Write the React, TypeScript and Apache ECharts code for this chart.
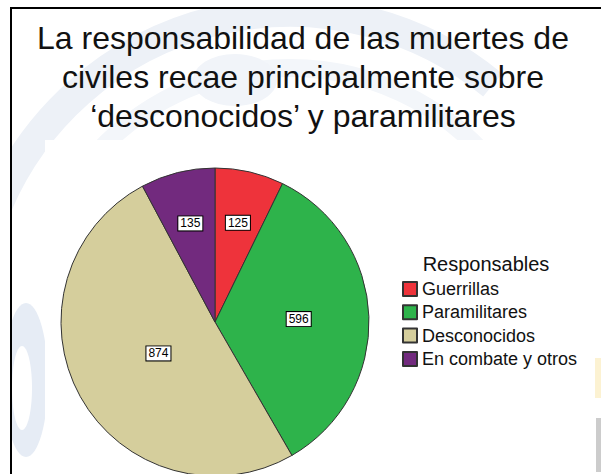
import React, { useEffect, useRef } from "react";
import * as echarts from "echarts";

const categories = ["Guerrillas", "Paramilitares", "Desconocidos", "En combate y otros"];
const values = [125, 596, 874, 135];
const colors = ["#EE333B", "#2EB34B", "#D5CE9C", "#722A7E"];
const titleLines = [
  "La responsabilidad de las muertes de",
  "civiles recae principalmente sobre",
  "\u2018desconocidos\u2019 y paramilitares",
];
const legendTitle = "Responsables";

const FONT = "'Liberation Sans', Arial, Helvetica, sans-serif";
const CX = 215;
const CY = 322;
const R = 154;

export default function App() {
  const ref = useRef<HTMLDivElement>(null);
  useEffect(() => {
    if (!ref.current) return;
    const chart = echarts.init(ref.current, undefined, { renderer: "svg" });
    const total = values.reduce((a, b) => a + b, 0);

    const centroid = (i: number) => {
      let before = 0;
      for (let k = 0; k < i; k++) before += values[k];
      const a0 = (before / total) * Math.PI * 2;
      const a1 = ((before + values[i]) / total) * Math.PI * 2;
      const mid = (a0 + a1) / 2;
      const half = (a1 - a0) / 2;
      const d = (2 * R * Math.sin(half)) / (3 * half);
      return { x: CX + d * Math.sin(mid), y: CY - d * Math.cos(mid) };
    };

    const option: any = {
      animation: false,
      backgroundColor: "#ffffff",
      color: colors,
      graphic: [
        // faint watermark of the slide background
        {
          type: "arc",
          z: -10,
          silent: true,
          shape: { cx: 290, cy: 330, r: 318, startAngle: Math.PI * 1.13, endAngle: Math.PI * 1.72, clockwise: true },
          style: { stroke: "#edf1f7", lineWidth: 30, fill: null },
        },
        {
          type: "arc",
          z: -10,
          silent: true,
          shape: { cx: 290, cy: 330, r: 262, startAngle: Math.PI * 1.2, endAngle: Math.PI * 1.8, clockwise: true },
          style: { stroke: "#f3f6fa", lineWidth: 18, fill: null },
        },
        {
          type: "ellipse",
          z: -10,
          silent: true,
          shape: { cx: 235, cy: 80, rx: 42, ry: 26 },
          style: { fill: "#f1f4f9" },
        },
        {
          type: "ellipse",
          z: -9,
          silent: true,
          shape: { cx: 26, cy: 380, rx: 22, ry: 77 },
          style: { fill: "#e6ecf5" },
        },
        {
          type: "ellipse",
          z: -8,
          silent: true,
          shape: { cx: 22, cy: 388, rx: 10, ry: 42 },
          style: { fill: "#ffffff" },
        },
        {
          type: "rect",
          z: -5,
          silent: true,
          shape: { x: 45, y: 140, width: 550, height: 334 },
          style: { fill: "#ffffff" },
        },
        {
          type: "rect",
          z: -5,
          silent: true,
          shape: { x: 0, y: 0, width: 10, height: 474 },
          style: { fill: "#ffffff" },
        },
        {
          type: "rect",
          z: -5,
          silent: true,
          shape: { x: 0, y: 0, width: 601, height: 7 },
          style: { fill: "#ffffff" },
        },
        {
          type: "rect",
          z: -4,
          silent: true,
          shape: { x: 595, y: 358, width: 6, height: 40 },
          style: { fill: "#fcf2d2" },
        },
        {
          type: "rect",
          z: -4,
          silent: true,
          shape: { x: 596, y: 418, width: 5, height: 54 },
          style: { fill: "#cccccc" },
        },
        // frame lines
        {
          type: "rect",
          z: 5,
          silent: true,
          shape: { x: 10, y: 7, width: 591, height: 2 },
          style: { fill: "#000000" },
        },
        {
          type: "rect",
          z: 5,
          silent: true,
          shape: { x: 10, y: 7, width: 2, height: 467 },
          style: { fill: "#000000" },
        },
        // title
        {
          type: "text",
          z: 6,
          x: 303,
          y: 18,
          style: {
            text: titleLines.join("\n"),
            font: `32px ${FONT}`,
            fill: "#111111",
            textAlign: "center",
            textVerticalAlign: "top",
            lineHeight: 39,
          },
        },
        {
          type: "text",
          z: 6,
          x: 486,
          y: 254,
          style: {
            text: legendTitle,
            font: `20px ${FONT}`,
            fill: "#111111",
            textAlign: "center",
            textVerticalAlign: "top",
          },
        },
      ],
      legend: {
        orient: "vertical",
        left: 397,
        top: 275,
        itemWidth: 14,
        itemHeight: 14,
        itemGap: 5.3,
        icon: "rect",
        data: categories,
        textStyle: {
          fontSize: 18,
          lineHeight: 18,
          fontFamily: FONT,
          color: "#111111",
        },
      },
      series: [
        {
          type: "pie",
          center: [CX, CY],
          radius: R,
          startAngle: 90,
          clockwise: true,
          avoidLabelOverlap: false,
          itemStyle: { borderColor: "#333333", borderWidth: 1 },
          emphasis: { disabled: true },
          label: {
            show: true,
            position: "inside",
            formatter: "{c}",
            fontSize: 12,
            lineHeight: 12,
            fontFamily: FONT,
            color: "#000000",
            backgroundColor: "#ffffff",
            borderColor: "#000000",
            borderWidth: 1,
            padding: [1, 2, 1, 2],
          },
          labelLine: { show: false },
          labelLayout: (params: any) => {
            const p = centroid(params.dataIndex);
            return { x: p.x, y: p.y, align: "center", verticalAlign: "middle" };
          },
          data: categories.map((name, i) => ({ name, value: values[i] })),
        },
      ],
    };
    chart.setOption(option);
    return () => chart.dispose();
  }, []);

  return (
    <div
      ref={ref}
      style={{ position: "absolute", left: 0, top: 0, width: 601, height: 474 }}
    />
  );
}
